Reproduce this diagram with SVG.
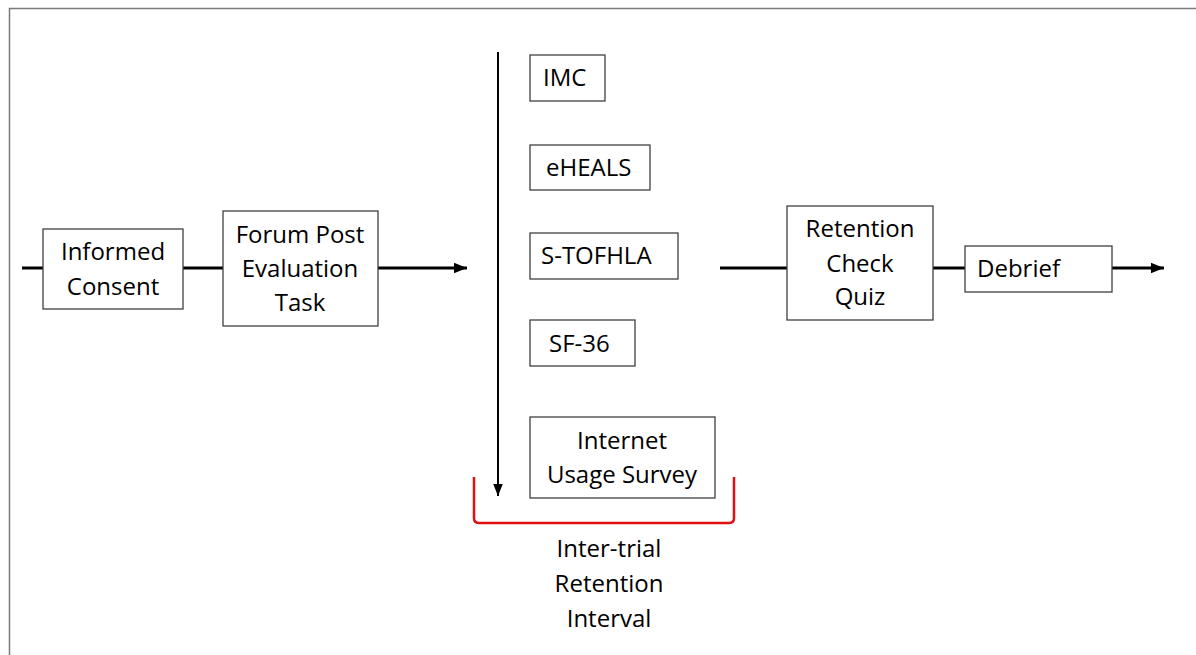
<svg xmlns="http://www.w3.org/2000/svg" width="1196" height="655" viewBox="0 0 1196 655">
<defs>
<style>
.box{fill:#fff;stroke:#404040;stroke-width:1.3}
.t{font-family:"Open Sans","Liberation Sans",sans-serif;font-size:24px;fill:#000}
.c{text-anchor:middle}
.ln{stroke:#000;stroke-width:3;fill:none}
</style>
<marker id="ah" viewBox="0 0 10 10" refX="10" refY="5" markerWidth="4.5" markerHeight="4.5" orient="auto" markerUnits="strokeWidth"><path d="M0,1 L10,5 L0,9 z" fill="#000"/></marker>
<marker id="ah2" viewBox="0 0 10 10" refX="10" refY="5" markerWidth="6" markerHeight="6" orient="auto" markerUnits="strokeWidth"><path d="M0,1 L10,5 L0,9 z" fill="#000"/></marker>
</defs>
<rect width="1196" height="655" fill="#fff"/>
<path d="M9.5,655 V8.5 H1196" fill="none" stroke="#7a7a7a" stroke-width="1.5"/>
<g id="connectors">
<line class="ln" x1="22" y1="268" x2="43" y2="268"/>
<line class="ln" x1="183" y1="268" x2="223" y2="268"/>
<line class="ln" x1="378" y1="268" x2="467" y2="268" marker-end="url(#ah)"/>
<line x1="498" y1="52" x2="498" y2="496" stroke="#000" stroke-width="2" marker-end="url(#ah2)"/>
<line class="ln" x1="720" y1="268" x2="787" y2="268"/>
<line class="ln" x1="933" y1="268" x2="965" y2="268"/>
<line class="ln" x1="1112" y1="268" x2="1164" y2="268" marker-end="url(#ah)"/>
<path d="M474,477 V518 Q474,523 479,523 H729 Q734,523 734,518 V477" fill="none" stroke="#e01010" stroke-width="2.5"/>
</g>
<g id="informed-consent"><rect class="box" x="43" y="229" width="140" height="80"/>
<text class="t c" x="113" y="260">Informed</text><text class="t c" x="113" y="295">Consent</text></g>
<g id="forum-post"><rect class="box" x="223" y="211" width="155" height="115"/>
<text class="t c" x="300" y="243">Forum Post</text><text class="t c" x="300" y="277">Evaluation</text><text class="t c" x="300" y="311">Task</text></g>
<g id="imc"><rect class="box" x="530" y="55" width="75" height="46"/><text class="t" x="543" y="86">IMC</text></g>
<g id="eheals"><rect class="box" x="530" y="145" width="120" height="45"/><text class="t" x="546" y="176">eHEALS</text></g>
<g id="stofhla"><rect class="box" x="530" y="233" width="148" height="46"/><text class="t" x="541" y="264">S-TOFHLA</text></g>
<g id="sf36"><rect class="box" x="530" y="320" width="105" height="46"/><text class="t" x="549" y="352">SF-36</text></g>
<g id="internet-usage"><rect class="box" x="530" y="417" width="185" height="81"/>
<text class="t c" x="622" y="449">Internet</text><text class="t c" x="622" y="483">Usage Survey</text></g>
<g id="interval-label"><text class="t c" x="609" y="557">Inter-trial</text><text class="t c" x="609" y="592">Retention</text><text class="t c" x="609" y="627">Interval</text></g>
<g id="retention-check"><rect class="box" x="787" y="206" width="146" height="114"/>
<text class="t c" x="860" y="237">Retention</text><text class="t c" x="860" y="272">Check</text><text class="t c" x="860" y="305">Quiz</text></g>
<g id="debrief"><rect class="box" x="965" y="246" width="147" height="46"/><text class="t" x="977" y="277">Debrief</text></g>
</svg>
